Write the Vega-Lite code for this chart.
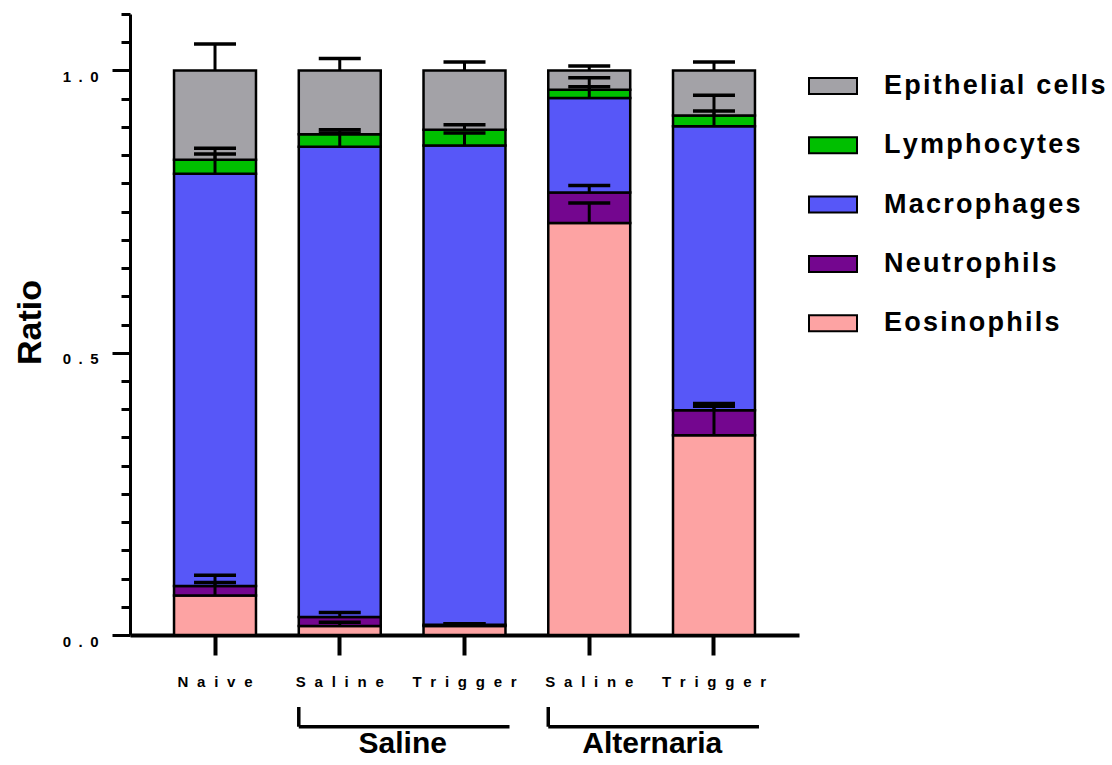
{
  "$schema": "https://vega.github.io/schema/vega-lite/v6.json",
  "width": 669,
  "height": 621,
  "autosize": {"type": "none"},
  "padding": {"left": 130, "top": 14, "right": 313, "bottom": 130},
  "background": "white",
  "config": {
    "view": {"stroke": null},
    "font": "Liberation Sans",
    "axisX": {
      "labelAngle": 0, "labelFontSize": 15, "labelFontWeight": "bold", "labelColor": "black",
      "labelPadding": 19, "tickSize": 20, "tickWidth": 4, "tickColor": "black", "domainWidth": 4, "domainColor": "black",
      "labelLimit": 0, "grid": false
    },
    "axisY": {
      "labelFontSize": 15, "labelFontWeight": "bold", "labelColor": "black", "labelPadding": 14, "labelOffset": 6,
      "labelOverlap": false, "grid": false, "domainWidth": 3, "domainColor": "black", "tickColor": "black", "tickWidth": 3,
      "tickCount": 30,
      "titleFontSize": 34, "titleFontWeight": "bold", "titleColor": "black", "titleX": -90, "titleY": 308,
      "titleAngle": -90, "titleBaseline": "alphabetic", "titleAlign": "center"
    }
  },
  "datasets": {
    "cells": [
      {"cond": "Naive", "cell": "Eosinophils", "lo": 0, "hi": 0.070, "err": 0.093},
      {"cond": "Naive", "cell": "Neutrophils", "lo": 0.070, "hi": 0.087, "err": 0.106},
      {"cond": "Naive", "cell": "Macrophages", "lo": 0.087, "hi": 0.817, "err": 0.852},
      {"cond": "Naive", "cell": "Lymphocytes", "lo": 0.817, "hi": 0.842, "err": 0.862},
      {"cond": "Naive", "cell": "Epithelial cells", "lo": 0.842, "hi": 1.0, "err": 1.047},
      {"cond": "Saline|Saline", "cell": "Eosinophils", "lo": 0, "hi": 0.016, "err": 0.0225},
      {"cond": "Saline|Saline", "cell": "Neutrophils", "lo": 0.016, "hi": 0.032, "err": 0.040},
      {"cond": "Saline|Saline", "cell": "Macrophages", "lo": 0.032, "hi": 0.865, "err": 0.889},
      {"cond": "Saline|Saline", "cell": "Lymphocytes", "lo": 0.865, "hi": 0.887, "err": 0.895},
      {"cond": "Saline|Saline", "cell": "Epithelial cells", "lo": 0.887, "hi": 1.0, "err": 1.021},
      {"cond": "Saline|Trigger", "cell": "Eosinophils", "lo": 0, "hi": 0.016, "err": 0.020},
      {"cond": "Saline|Trigger", "cell": "Neutrophils", "lo": 0.016, "hi": 0.018, "err": 0.020},
      {"cond": "Saline|Trigger", "cell": "Macrophages", "lo": 0.018, "hi": 0.867, "err": 0.889},
      {"cond": "Saline|Trigger", "cell": "Lymphocytes", "lo": 0.867, "hi": 0.895, "err": 0.904},
      {"cond": "Saline|Trigger", "cell": "Epithelial cells", "lo": 0.895, "hi": 1.0, "err": 1.015},
      {"cond": "Alternaria|Saline", "cell": "Eosinophils", "lo": 0, "hi": 0.730, "err": 0.765},
      {"cond": "Alternaria|Saline", "cell": "Neutrophils", "lo": 0.730, "hi": 0.784, "err": 0.796},
      {"cond": "Alternaria|Saline", "cell": "Macrophages", "lo": 0.784, "hi": 0.951, "err": 0.971},
      {"cond": "Alternaria|Saline", "cell": "Lymphocytes", "lo": 0.951, "hi": 0.966, "err": 0.987},
      {"cond": "Alternaria|Saline", "cell": "Epithelial cells", "lo": 0.966, "hi": 1.0, "err": 1.008},
      {"cond": "Alternaria|Trigger", "cell": "Eosinophils", "lo": 0, "hi": 0.354, "err": 0.405},
      {"cond": "Alternaria|Trigger", "cell": "Neutrophils", "lo": 0.354, "hi": 0.398, "err": 0.410},
      {"cond": "Alternaria|Trigger", "cell": "Macrophages", "lo": 0.398, "hi": 0.901, "err": 0.928},
      {"cond": "Alternaria|Trigger", "cell": "Lymphocytes", "lo": 0.901, "hi": 0.920, "err": 0.956},
      {"cond": "Alternaria|Trigger", "cell": "Epithelial cells", "lo": 0.920, "hi": 1.0, "err": 1.015}
    ],
    "groups": [
      {"group": "Saline", "from": "Saline|Saline", "to": "Saline|Trigger"},
      {"group": "Alternaria", "from": "Alternaria|Saline", "to": "Alternaria|Trigger"}
    ]
  },
  "layer": [
    {
      "data": {"name": "cells"},
      "mark": {"type": "bar", "stroke": "black", "strokeWidth": 2.5},
      "encoding": {
        "x": {
          "field": "cond", "type": "nominal",
          "scale": {
            "domain": ["Naive", "Saline|Saline", "Saline|Trigger", "Alternaria|Saline", "Alternaria|Trigger"],
            "paddingInner": 0.343, "paddingOuter": 0.353
          },
          "axis": {"title": null, "labelExpr": "join(split(peek(split(datum.value, '|')), ''), '\u2002\u200a')"}
        },
        "y": {
          "field": "lo", "type": "quantitative",
          "scale": {"domain": [0, 1.1], "nice": false, "zero": true},
          "axis": {
            "title": "Ratio", "tickCount": 30,
            "labelExpr": "datum.value == 0 ? '0\u2002.\u20020' : datum.value == 0.5 ? '0\u2002.\u20025' : datum.value == 1 ? '1\u2002.\u20020' : ''",
            "tickSize": {"condition": {"test": "datum.value == 0 || datum.value == 0.5 || datum.value == 1", "value": 18}, "value": 9}
          }
        },
        "y2": {"field": "hi"},
        "color": {
          "field": "cell", "type": "nominal",
          "scale": {
            "domain": ["Epithelial cells", "Lymphocytes", "Macrophages", "Neutrophils", "Eosinophils"],
            "range": ["#A3A2A7", "#00BF00", "#5757F8", "#74068F", "#FDA3A3"]
          },
          "legend": {
            "title": null, "orient": "none", "legendX": 678, "legendY": 47,
            "symbolType": "M-1,-0.333H1V0.333H-1Z", "symbolSize": 2304,
            "symbolStrokeColor": "black", "symbolStrokeWidth": 2, "symbolOpacity": 1,
            "labelFontSize": 27, "labelFontWeight": "bold", "labelColor": "black", "labelOffset": 26,
            "rowPadding": 21.3, "labelLimit": 500,
            "labelExpr": "join(split(datum.label, ''), '\u200a')"
          }
        }
      }
    },
    {
      "data": {"name": "cells"},
      "mark": {"type": "rule", "color": "black", "strokeWidth": 3},
      "encoding": {
        "x": {"field": "cond", "type": "nominal"},
        "y": {"field": "hi", "type": "quantitative"},
        "y2": {"field": "err"}
      }
    },
    {
      "data": {"name": "cells"},
      "mark": {"type": "tick", "color": "black", "thickness": 3.5, "size": 42, "orient": "horizontal", "opacity": 1},
      "encoding": {
        "x": {"field": "cond", "type": "nominal"},
        "y": {"field": "err", "type": "quantitative"}
      }
    },
    {
      "data": {"name": "groups"},
      "mark": {"type": "rule", "color": "black", "strokeWidth": 3.5, "x2Offset": 45},
      "encoding": {
        "x": {"field": "from", "type": "nominal", "bandPosition": 0},
        "x2": {"field": "to"},
        "y": {"datum": -0.1625}
      }
    },
    {
      "data": {"name": "groups"},
      "mark": {"type": "rule", "color": "black", "strokeWidth": 3.5},
      "encoding": {
        "x": {"field": "from", "type": "nominal", "bandPosition": 0},
        "y": {"datum": -0.1275},
        "y2": {"datum": -0.1625}
      }
    },
    {
      "data": {"name": "groups"},
      "mark": {"type": "text", "color": "black", "fontSize": 30, "fontWeight": "bold", "baseline": "middle", "align": "center", "xOffset": 104},
      "encoding": {
        "x": {"field": "from", "type": "nominal", "bandPosition": 0},
        "y": {"datum": -0.193},
        "text": {"field": "group"}
      }
    }
  ]
}
